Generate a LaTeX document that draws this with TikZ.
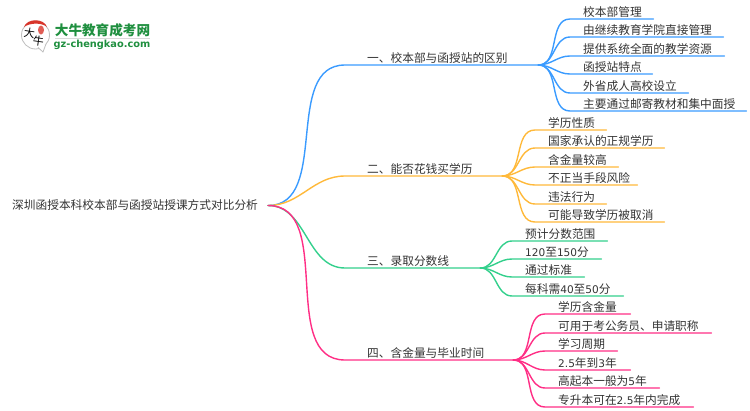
\documentclass[tikz,border=0pt]{standalone}
\usepackage{fontspec}
\setmainfont{DejaVu Sans}
\newfontfamily\cjk{Noto Sans CJK SC}
\newfontfamily\latn[Scale=0.9]{DejaVu Sans}
\newcommand{\dg}[1]{{\latn #1}}
\definecolor{bluel}{HTML}{3A9BFF}
\definecolor{orangel}{HTML}{FFB93A}
\definecolor{greenl}{HTML}{33D08C}
\definecolor{pinkl}{HTML}{FF2E85}
\definecolor{logogreen}{HTML}{1F8F3F}
\definecolor{logored}{HTML}{D8352A}
\tikzset{
   txt/.style={font=\cjk\fontsize{11.7}{14}\selectfont,text=black!80},
   leaf/.style={txt,anchor=south west,inner xsep=0pt,inner ysep=0pt,text width=#1,
      text height=10pt,text depth=2.2pt,align=left,execute at begin node=\hspace*{13pt}},
   branch/.style={txt,anchor=south west,inner xsep=0pt,inner ysep=0pt,text width=#1,
      text height=10pt,text depth=2.2pt,align=left,execute at begin node=\hspace*{22pt}},
   wire/.style={line width=1.4pt,line cap=round},
   swing/.style={out=0,in=180}
}

\begin{document}
\begin{tikzpicture}[x=1pt,y=-1pt]
            \useasboundingbox (0,0) rectangle (750,410);

            % logo
            \fill [white,draw=black!25,line width=0.8pt]
               (35.5,35) circle (14);
            \fill [white,draw=black!25,line width=0.8pt]
               (38,47.5) -- (43,52) -- (46,44);
            \fill [logored]
               (24,27) .. controls (27,18) and (44,18) .. (47,27)
               .. controls (42,22.5) and (30,22.5) .. (24,27);
            \fill [logored!80] (41,30) ellipse (3 and 4.5);
            \node [font=\cjk\fontsize{11}{12}\selectfont,rotate=-8] (logoda) at (29.5,33) {大};
            \node [font=\cjk\fontsize{11}{12}\selectfont,rotate=-8] (logoniu) at (38.5,41) {牛};
            \node [font=\cjk\bfseries\fontsize{13.6}{15}\selectfont,text=logogreen,inner sep=0pt] (logocn) at (102.5,30) {大牛教育成考网};
            \draw [black!15,line width=0.8pt] (55,38.5) -- (150,38.5);
            \node [font=\bfseries\fontsize{9.8}{11}\selectfont,text=logogreen,inner sep=0pt] (logourl) at (102,45) {gz-chengkao.com};

            % root and branches
            \node [txt,anchor=west,inner xsep=10pt] (root) at (2,205.5) {深圳函授本科校本部与函授站授课方式对比分析};
            \node [branch=193pt] (b1) at (345,65) {一、校本部与函授站的区别};
            \node [branch=157pt] (b2) at (345,176) {二、能否花钱买学历};
            \node [branch=135pt] (b3) at (345,268) {三、录取分数线};
            \node [branch=168pt] (b4) at (345,360) {四、含金量与毕业时间};

            % first group
            \node [leaf=83pt] (a1) at (570,19) {校本部管理};
            \node [leaf=153pt] (a2) at (570,37) {由继续教育学院直接管理};
            \node [leaf=154pt] (a3) at (570,56) {提供系统全面的教学资源};
            \node [leaf=82pt] (a4) at (570,74) {函授站特点};
            \node [leaf=118pt] (a5) at (570,93) {外省成人高校设立};
            \node [leaf=176pt] (a6) at (570,111) {主要通过邮寄教材和集中面授};

            % second group
            \node [leaf=71pt] (c1) at (535,130) {学历性质};
            \node [leaf=129pt] (c2) at (535,148) {国家承认的正规学历};
            \node [leaf=83pt] (c3) at (535,167) {含金量较高};
            \node [leaf=102pt] (c4) at (535,185) {不正当手段风险};
            \node [leaf=71pt] (c5) at (535,204) {违法行为};
            \node [leaf=129pt] (c6) at (535,222) {可能导致学历被取消};

            % third group
            \node [leaf=95pt] (d1) at (512,241) {预计分数范围};
            \node [leaf=89pt] (d2) at (512,259) {\dg{120}至\dg{150}分};
            \node [leaf=72pt] (d3) at (512,277) {通过标准};
            \node [leaf=111pt] (d4) at (512,296) {每科需\dg{40}至\dg{50}分};

            % fourth group
            \node [leaf=85pt] (e1) at (545,314) {学历含金量};
            \node [leaf=166pt] (e2) at (545,333) {可用于考公务员、申请职称};
            \node [leaf=72pt] (e3) at (545,351) {学习周期};
            \node [leaf=85pt] (e4) at (545,370) {\dg{2.5}年到\dg{3}年};
            \node [leaf=114pt] (e5) at (545,388) {高起本一般为\dg{5}年};
            \node [leaf=148pt] (e6) at (545,407) {专升本可在\dg{2.5}年内完成};

            \draw [wire,bluel] (root.east) to[swing] (b1.south west) -- (b1.south east);
            \draw [wire,bluel] (b1.south east) to[swing] (a1.south west) -- (a1.south east);
            \draw [wire,bluel] (b1.south east) to[swing] (a2.south west) -- (a2.south east);
            \draw [wire,bluel] (b1.south east) to[swing] (a3.south west) -- (a3.south east);
            \draw [wire,bluel] (b1.south east) to[swing] (a4.south west) -- (a4.south east);
            \draw [wire,bluel] (b1.south east) to[swing] (a5.south west) -- (a5.south east);
            \draw [wire,bluel] (b1.south east) to[swing] (a6.south west) -- (a6.south east);

            \draw [wire,orangel] (root.east) to[swing] (b2.south west) -- (b2.south east);
            \draw [wire,orangel] (b2.south east) to[swing] (c1.south west) -- (c1.south east);
            \draw [wire,orangel] (b2.south east) to[swing] (c2.south west) -- (c2.south east);
            \draw [wire,orangel] (b2.south east) to[swing] (c3.south west) -- (c3.south east);
            \draw [wire,orangel] (b2.south east) to[swing] (c4.south west) -- (c4.south east);
            \draw [wire,orangel] (b2.south east) to[swing] (c5.south west) -- (c5.south east);
            \draw [wire,orangel] (b2.south east) to[swing] (c6.south west) -- (c6.south east);

            \draw [wire,greenl] (root.east) to[swing] (b3.south west) -- (b3.south east);
            \draw [wire,greenl] (b3.south east) to[swing] (d1.south west) -- (d1.south east);
            \draw [wire,greenl] (b3.south east) to[swing] (d2.south west) -- (d2.south east);
            \draw [wire,greenl] (b3.south east) to[swing] (d3.south west) -- (d3.south east);
            \draw [wire,greenl] (b3.south east) to[swing] (d4.south west) -- (d4.south east);

            \draw [wire,pinkl] (root.east) to[swing] (b4.south west) -- (b4.south east);
            \draw [wire,pinkl] (b4.south east) to[swing] (e1.south west) -- (e1.south east);
            \draw [wire,pinkl] (b4.south east) to[swing] (e2.south west) -- (e2.south east);
            \draw [wire,pinkl] (b4.south east) to[swing] (e3.south west) -- (e3.south east);
            \draw [wire,pinkl] (b4.south east) to[swing] (e4.south west) -- (e4.south east);
            \draw [wire,pinkl] (b4.south east) to[swing] (e5.south west) -- (e5.south east);
            \draw [wire,pinkl] (b4.south east) to[swing] (e6.south west) -- (e6.south east);
         \end{tikzpicture}
\end{document}
